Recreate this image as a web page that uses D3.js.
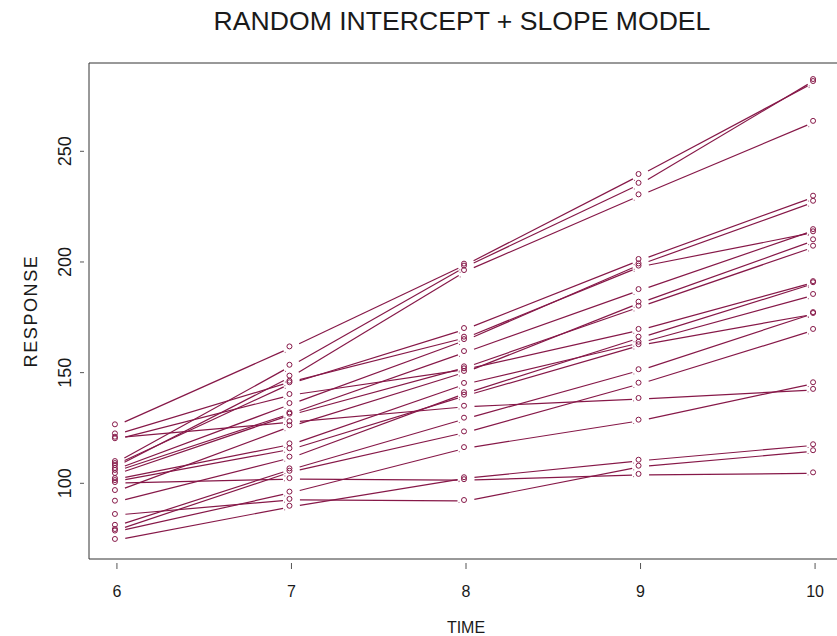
<!DOCTYPE html>
<html>
<head>
<meta charset="utf-8">
<script src="https://cdn.jsdelivr.net/npm/d3@7"></script>
<style>
    body { margin: 0; background: #fff; }
    text { font-family: "Liberation Sans", Arial, sans-serif; fill: #1a1a1a; }
</style>
</head>
<body>
<script>
// measurement times
var times = [6, 7, 8, 9, 10];

// response of each subject (same subject order in every array)
var resp6  = [109.6, 126.2, 107.8, 108.7, 106.5, 105.6, 122.1,  96.5, 104.2, 119.9,  91.7, 101.9,  80.8, 101.0,  78.9,  78.2, 120.6,  74.4,  85.7, 100.1];
var resp7  = [153.1, 161.4, 148.2, 145.2, 135.8, 131.6, 145.9, 125.8, 131.0, 139.9, 111.6, 117.6, 106.3, 115.4, 105.2,  95.8, 127.6,  89.4,  92.5, 101.9];
var resp8  = [197.9, 198.8, 195.9, 169.7, 164.7, 159.3, 165.8, 150.3, 152.4, 151.5, 140.7, 144.9, 129.2, 139.6, 123.0, 115.9, 134.6, 102.3,  92.0, 101.4];
var resp9  = [235.3, 239.3, 230.1, 200.9, 198.9, 187.3, 197.9, 181.6, 179.8, 169.3, 165.8, 163.5, 151.1, 162.4, 145.0, 128.3, 138.1, 110.2, 107.5, 103.8];
var resp10 = [282.2, 281.3, 263.3, 229.5, 227.2, 214.4, 213.4, 209.8, 206.9, 190.9, 190.4, 185.1, 176.9, 176.5, 169.3, 145.2, 142.2, 117.2, 114.5, 104.5];

var yTicks = [100, 150, 200, 250];

var width = 837,
    height = 636,
    colour = "#861848";

var svg = d3.select("body").append("svg")
    .attr("width", width)
    .attr("height", height);

var x = d3.scaleLinear().domain([5.84, 10.16]).range([89, 843]);
var y = d3.scaleLinear().domain([65.8, 289.9]).range([559, 63]);

var columns = [resp6, resp7, resp8, resp9, resp10];

// one row of points per subject
var subjects = resp6.map(function (d, i) {
    return times.map(function (t, j) {
        return { t: t, v: columns[j][i] };
    });
});

/** frame, open on the right where the picture is cut **/
svg.append("path")
    .attr("d", "M" + (x.range()[1]) + "," + y.range()[1] +
        "H" + x.range()[0] + "V" + y.range()[0] + "H" + x.range()[1])
    .attr("fill", "none")
    .attr("stroke", "#333")
    .attr("stroke-width", 1);

/** y axis, ticks set a little off the frame **/
var yAxis = svg.append("g");
yTicks.forEach(function (v) {
    yAxis.append("line")
        .attr("x1", 80).attr("x2", 84)
        .attr("y1", y(v)).attr("y2", y(v))
        .attr("stroke", "#555");
    yAxis.append("text")
        .attr("transform", "translate(71," + y(v) + ") rotate(-90)")
        .attr("text-anchor", "middle")
        .attr("font-size", 18)
        .text(v);
});

/** x axis **/
var xAxis = svg.append("g");
times.forEach(function (t) {
    xAxis.append("line")
        .attr("x1", x(t)).attr("x2", x(t))
        .attr("y1", 563).attr("y2", 569)
        .attr("stroke", "#555");
    xAxis.append("text")
        .attr("x", x(t))
        .attr("y", 597)
        .attr("text-anchor", "middle")
        .attr("font-size", 16)
        .text(t);
});

/** titles **/
svg.append("text")
    .attr("x", 462).attr("y", 30)
    .attr("text-anchor", "middle")
    .attr("font-size", 26.6)
    .text("RANDOM INTERCEPT + SLOPE MODEL");

svg.append("text")
    .attr("x", 466).attr("y", 633)
    .attr("text-anchor", "middle")
    .attr("font-size", 16)
    .text("TIME");

svg.append("text")
    .attr("transform", "translate(37,311) rotate(-90)")
    .attr("text-anchor", "middle")
    .attr("font-size", 18)
    .attr("letter-spacing", 1.6)
    .text("RESPONSE");

/** lines with a gap round each point, like type = "b" **/
var gap = 8.5;
var marks = svg.append("g");

subjects.forEach(function (pts) {
    for (var k = 0; k < pts.length - 1; k++) {
        var x1 = x(pts[k].t), y1 = y(pts[k].v),
            x2 = x(pts[k + 1].t), y2 = y(pts[k + 1].v),
            len = Math.sqrt((x2 - x1) * (x2 - x1) + (y2 - y1) * (y2 - y1)),
            ux = (x2 - x1) / len, uy = (y2 - y1) / len;

        marks.append("line")
            .attr("x1", x1 + ux * gap).attr("y1", y1 + uy * gap)
            .attr("x2", x2 - ux * gap).attr("y2", y2 - uy * gap)
            .attr("stroke", colour)
            .attr("stroke-width", 1.2);

        // small dot left at the end of each segment
        marks.append("rect")
            .attr("x", x2 - ux * gap + 1).attr("y", y2 - uy * gap + 1)
            .attr("width", 1).attr("height", 1)
            .attr("fill", colour)
            .attr("opacity", 0.7);
    }

    pts.forEach(function (p) {
        marks.append("circle")
            .attr("cx", x(p.t) - 2)
            .attr("cy", y(p.v) - 1)
            .attr("r", 2.5)
            .attr("fill", "none")
            .attr("stroke", colour)
            .attr("stroke-width", 1);
    });
});
</script>
</body>
</html>
